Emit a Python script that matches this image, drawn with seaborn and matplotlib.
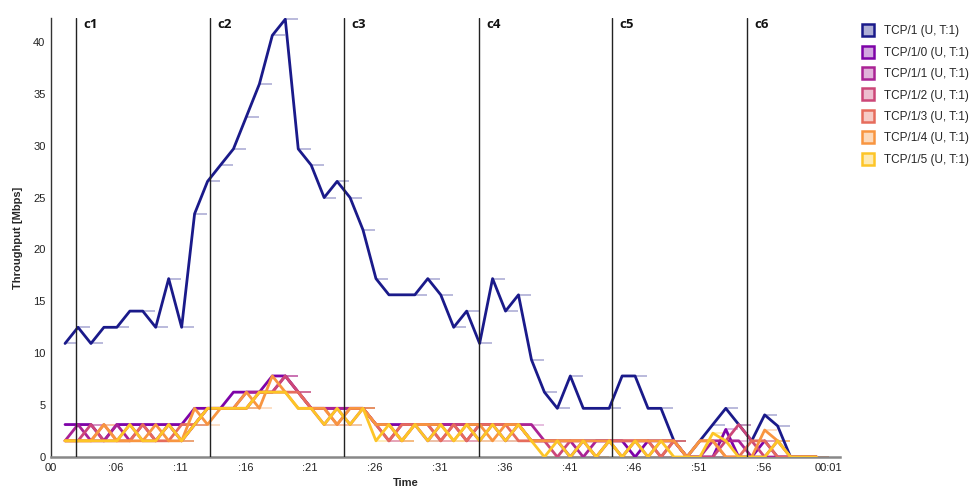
import numpy as np
import pandas as pd
import matplotlib
matplotlib.use("Agg")
import matplotlib.pyplot as plt
from matplotlib.lines import Line2D
import seaborn as sns

# ---- data -----------------------------------------------------------------
series_names = ["TCP/1 (U, T:1)", "TCP/1/0 (U, T:1)", "TCP/1/1 (U, T:1)",
                "TCP/1/2 (U, T:1)", "TCP/1/3 (U, T:1)", "TCP/1/4 (U, T:1)",
                "TCP/1/5 (U, T:1)"]

first_sample = 2.08          # seconds, one sample per second

tcp1 = [10.94, 12.5, 10.94, 12.5, 12.5, 14.06, 14.06, 12.5, 17.19, 12.5,
        23.44, 26.56, 28.13, 29.69, 32.81, 35.94, 40.63, 42.19, 29.69, 28.13,
        25.0, 26.56, 25.0, 21.88, 17.19, 15.63, 15.63, 15.63, 17.19, 15.63,
        12.5, 14.06, 10.94, 17.19, 14.06, 15.63, 9.38, 6.25, 4.69, 7.81,
        4.69, 4.69, 4.69, 7.81, 7.81, 4.69, 4.69, 1.56, 0.0, 1.56,
        3.13, 4.69, 3.13, 1.56, 4.06, 3.0, 0.0, 0.0, 0.0]

tcp1_0 = [3.13, 3.13, 3.13, 1.56, 3.13, 3.13, 3.13, 3.13, 3.13, 3.13,
          4.69, 4.69, 4.69, 6.25, 6.25, 6.25, 7.81, 7.81, 6.25, 4.69,
          4.69, 4.69, 4.69, 4.69, 3.13, 3.13, 3.13, 3.13, 3.13, 3.13,
          3.13, 3.13, 3.13, 3.13, 3.13, 3.13, 1.56, 1.56, 1.56, 0.0,
          1.56, 1.56, 1.56, 1.56, 0.0, 1.56, 1.56, 1.56, 0.0, 0.0,
          0.0, 2.66, 0.0, 0.0, 1.56, 0.0, 0.0, 0.0, 0.0]

tcp1_1 = [1.56, 3.13, 1.56, 1.56, 3.13, 1.56, 3.13, 1.56, 3.13, 1.56,
          3.13, 4.69, 4.69, 4.69, 6.25, 6.25, 6.25, 7.81, 6.25, 4.69,
          4.69, 4.69, 4.69, 4.69, 3.13, 1.56, 3.13, 3.13, 1.56, 3.13,
          3.13, 1.56, 3.13, 3.13, 1.56, 3.13, 3.13, 1.56, 1.56, 1.56,
          0.0, 1.56, 1.56, 0.0, 1.56, 1.56, 0.0, 1.56, 0.0, 0.0,
          1.56, 1.56, 1.56, 0.0, 0.0, 0.0, 0.0, 0.0, 0.0]

tcp1_2 = [1.56, 1.56, 3.13, 1.56, 1.56, 3.13, 1.56, 1.56, 3.13, 1.56,
          3.13, 4.69, 4.69, 4.69, 4.69, 6.25, 6.25, 7.81, 6.25, 4.69,
          3.13, 4.69, 3.13, 4.69, 3.13, 3.13, 1.56, 3.13, 3.13, 1.56,
          3.13, 3.13, 1.56, 3.13, 3.13, 3.13, 1.56, 1.56, 0.0, 1.56,
          1.56, 0.0, 1.56, 1.56, 1.56, 0.0, 1.56, 1.56, 0.0, 0.0,
          0.0, 1.56, 3.13, 1.56, 0.0, 1.56, 0.0, 0.0, 0.0]

tcp1_3 = [1.56, 1.56, 1.56, 3.13, 1.56, 1.56, 3.13, 1.56, 1.56, 3.13,
          3.13, 4.69, 4.69, 4.69, 4.69, 6.25, 6.25, 6.25, 6.25, 4.69,
          4.69, 3.13, 4.69, 4.69, 3.13, 1.56, 3.13, 3.13, 3.13, 1.56,
          3.13, 1.56, 3.13, 3.13, 3.13, 1.56, 1.56, 1.56, 1.56, 1.56,
          1.56, 0.0, 1.56, 1.56, 1.56, 1.56, 0.0, 1.56, 0.0, 1.56,
          1.56, 0.0, 0.0, 1.56, 1.56, 0.0, 0.0, 0.0, 0.0]

tcp1_4 = [1.56, 1.56, 1.56, 3.13, 1.56, 1.56, 1.56, 3.13, 1.56, 1.56,
          4.69, 3.13, 4.69, 4.69, 6.25, 4.69, 7.81, 6.25, 4.69, 4.69,
          4.69, 3.13, 4.69, 4.69, 3.13, 3.13, 1.56, 3.13, 3.13, 3.13,
          1.56, 3.13, 3.13, 1.56, 3.13, 3.13, 1.56, 1.56, 1.56, 1.56,
          1.56, 1.56, 1.56, 0.0, 1.56, 1.56, 1.56, 1.56, 0.0, 1.56,
          1.56, 0.0, 0.0, 0.0, 2.6, 1.56, 0.0, 0.0, 0.0]

tcp1_5 = [1.56, 1.56, 1.56, 1.56, 1.56, 3.13, 1.56, 1.56, 3.13, 1.56,
          3.13, 4.69, 4.69, 4.69, 4.69, 6.25, 6.25, 6.25, 4.69, 4.69,
          3.13, 4.69, 3.13, 4.69, 1.56, 3.13, 1.56, 3.13, 1.56, 3.13,
          1.56, 3.13, 1.56, 3.13, 1.56, 3.13, 1.56, 0.0, 1.56, 0.0,
          1.56, 0.0, 1.56, 0.0, 1.56, 0.0, 1.56, 0.0, 0.0, 0.0,
          2.3, 1.56, 0.0, 0.0, 0.0, 1.56, 0.0, 0.0, 0.0]

series_values = [tcp1, tcp1_0, tcp1_1, tcp1_2, tcp1_3, tcp1_4, tcp1_5]

# phase markers
marker_labels = ["c1", "c2", "c3", "c4", "c5", "c6"]
marker_times = [2.96, 13.30, 23.64, 34.03, 44.32, 54.73]

tick_positions = [1, 6, 11, 16, 21, 26, 31, 36, 41, 46, 51, 56, 61]
tick_labels = ["00", ":06", ":11", ":16", ":21", ":26", ":31", ":36",
               ":41", ":46", ":51", ":56", "00:01"]

# ---- long-form table --------------------------------------------------------
n = len(tcp1)
times = first_sample + np.arange(n)
frames = [pd.DataFrame({"Time": times, "Throughput": vals, "flow": name})
          for name, vals in zip(series_names, series_values)]
df = pd.concat(frames, ignore_index=True)

# ---- figure -----------------------------------------------------------------
sns.set_theme(style="white")
plt.rcParams["font.family"] = ["Liberation Sans", "DejaVu Sans"]

palette = sns.color_palette("plasma", len(series_names))
palette[0] = "#1a1a8a"

fig = plt.figure(figsize=(9.76, 4.88), dpi=100)
ax = fig.add_axes([0.0523, 0.0635, 0.8084, 0.8995])

# short translucent hold marks after each sample
for name, col in zip(series_names, palette):
    sub = df[df["flow"] == name]
    ax.hlines(sub["Throughput"], sub["Time"], sub["Time"] + 0.95,
              colors=[col], alpha=0.3, linewidth=1.4, zorder=1)

sns.lineplot(data=df, x="Time", y="Throughput", hue="flow",
             hue_order=series_names, palette=palette, linewidth=2.0,
             legend=False, ax=ax, zorder=3)

# phase markers
for lab, t in zip(marker_labels, marker_times):
    ax.axvline(t, color="#222222", linewidth=1.0, zorder=4)
    ax.annotate(lab, xy=(t, 1.0), xycoords=("data", "axes fraction"),
                xytext=(5, -4.5), textcoords="offset points",
                ha="left", va="center", fontsize=9.5, fontweight="bold",
                family=["Open Sans", "DejaVu Sans"], color="#111111")

ax.set_xlim(1, 61.9)
ax.set_ylim(0, 42.3)
ax.set_xticks(tick_positions)
ax.set_xticklabels(tick_labels)
ax.set_yticks(np.arange(0, 41, 5))

ax.tick_params(axis="x", direction="in", length=5, width=1, color="#777777",
               labelsize=8, pad=4, labelcolor="#222222")
ax.tick_params(axis="y", direction="in", length=5, width=1, color="#333333",
               labelsize=8, pad=4, labelcolor="#222222")

for side in ["top", "right"]:
    ax.spines[side].set_visible(False)
ax.spines["left"].set_color("#333333")
ax.spines["left"].set_linewidth(1.0)
ax.spines["bottom"].set_color("#888888")
ax.spines["bottom"].set_linewidth(1.8)

ax.set_xlabel("Time", fontsize=8, fontweight="bold")
ax.xaxis.set_label_coords(0.449, -0.048)
ax.set_ylabel("Throughput [Mbps]", fontsize=8, fontweight="bold")
ax.yaxis.set_label_coords(-0.036, 0.5)

# legend with square swatches
handles = [Line2D([], [], linestyle="none", marker="s", markersize=9,
                  markerfacecolor=(*matplotlib.colors.to_rgb(c), 0.35),
                  markeredgecolor=c, markeredgewidth=1.8)
           for c in palette]
fig.legend(handles, series_names, loc="upper left",
           bbox_to_anchor=(0.878, 0.958), frameon=False, fontsize=8.5,
           handlelength=1.0, handletextpad=0.9, labelspacing=0.80,
           borderaxespad=0.0)

fig.savefig("out.png", dpi=100)
